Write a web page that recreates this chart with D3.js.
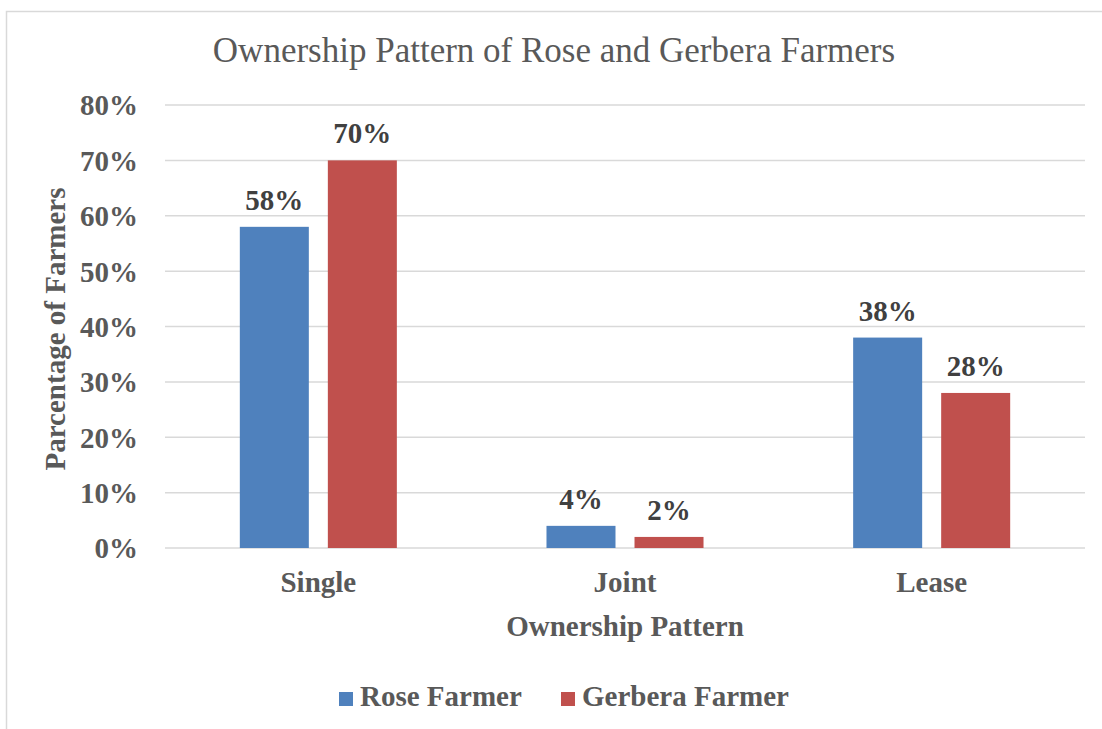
<!DOCTYPE html>
<html>
<head>
<meta charset="utf-8">
<script src="https://cdn.jsdelivr.net/npm/d3@7"></script>
<style>
  body { margin: 0; background: #fff; }
  text { font-family: "Liberation Serif", "Times New Roman", serif; }
</style>
</head>
<body>
<div class="container"></div>
<script>
const categories = ['Single', 'Joint', 'Lease'];
const series = ['Rose Farmer', 'Gerbera Farmer'];
const roseValues = [58, 4, 38];
const gerberaValues = [70, 2, 28];
const yTicks = [0, 10, 20, 30, 40, 50, 60, 70, 80];

const colors = ['#4f81bd', '#c0504d'];
const values = [roseValues, gerberaValues];

const w = 1102,
    h = 729;
const pLeft = 165, pRight = 1085, pTop = 105, pBottom = 548;
const fs = 29;

const svg = d3.select('.container')
  .append('svg')
  .attr('width', w)
  .attr('height', h);

// chart border
svg.append('rect')
  .attr('x', 6.5)
  .attr('y', 11.5)
  .attr('width', 1120)
  .attr('height', 740)
  .attr('fill', 'none')
  .attr('stroke', '#d9d9d9')
  .attr('stroke-width', 1.5);

const x0 = d3.scaleBand()
  .domain(categories)
  .range([pLeft, pRight]);

const x1 = d3.scaleBand()
  .domain(series)
  .range([0, x0.bandwidth()])
  .paddingInner(0.216)
  .paddingOuter(0.85);

const yScale = d3.scaleLinear()
  .domain([0, 80])
  .range([pBottom, pTop]);

// gridlines
svg.append('g')
  .selectAll('line')
  .data(yTicks)
  .enter()
  .append('line')
  .attr('x1', pLeft)
  .attr('x2', pRight)
  .attr('y1', d => yScale(d))
  .attr('y2', d => yScale(d))
  .attr('stroke', '#d9d9d9')
  .attr('stroke-width', 1.5);

// y axis labels
const yAxis = d3.axisLeft(yScale)
  .tickValues(yTicks)
  .tickSize(0)
  .tickPadding(0)
  .tickFormat(d => d + '%');

const yg = svg.append('g')
  .attr('transform', 'translate(138,0)')
  .call(yAxis);
yg.select('.domain').remove();
yg.selectAll('text')
  .attr('font-family', '"Liberation Serif", "Times New Roman", serif')
  .attr('font-size', fs)
  .attr('font-weight', 'bold')
  .attr('fill', '#595959')
  .attr('dy', '0.34em');

// x axis labels
const xAxis = d3.axisBottom(x0).tickSize(0).tickPadding(0);
const xg = svg.append('g')
  .attr('transform', `translate(0,${pBottom})`)
  .call(xAxis);
xg.select('.domain').remove();
xg.selectAll('text')
  .attr('font-family', '"Liberation Serif", "Times New Roman", serif')
  .attr('font-size', fs)
  .attr('font-weight', 'bold')
  .attr('fill', '#595959')
  .attr('y', 44)
  .attr('dy', 0);

// bars
series.forEach((s, si) => {
  const g = svg.append('g');
  g.selectAll('rect')
    .data(values[si])
    .enter()
    .append('rect')
    .attr('x', (d, i) => x0(categories[i]) + x1(s))
    .attr('y', d => yScale(d))
    .attr('width', x1.bandwidth())
    .attr('height', d => pBottom - yScale(d))
    .attr('fill', colors[si]);

  g.selectAll('text')
    .data(values[si])
    .enter()
    .append('text')
    .attr('x', (d, i) => x0(categories[i]) + x1(s) + x1.bandwidth() / 2)
    .attr('y', d => yScale(d) - 17)
    .attr('text-anchor', 'middle')
    .attr('font-size', fs)
    .attr('font-weight', 'bold')
    .attr('fill', '#404040')
    .text(d => d + '%');
});

// title
svg.append('text')
  .attr('x', 554)
  .attr('y', 62)
  .attr('text-anchor', 'middle')
  .attr('font-size', 35)
  .attr('fill', '#595959')
  .text('Ownership Pattern of Rose and Gerbera Farmers');

// axis titles
svg.append('text')
  .attr('x', (pLeft + pRight) / 2)
  .attr('y', 636)
  .attr('text-anchor', 'middle')
  .attr('font-size', fs)
  .attr('font-weight', 'bold')
  .attr('fill', '#595959')
  .text('Ownership Pattern');

svg.append('text')
  .attr('transform', 'translate(65,329) rotate(-90)')
  .attr('text-anchor', 'middle')
  .attr('font-size', fs)
  .attr('font-weight', 'bold')
  .attr('fill', '#595959')
  .text('Parcentage of Farmers');

// legend
const legendX = [339, 561];
series.forEach((s, si) => {
  svg.append('rect')
    .attr('x', legendX[si])
    .attr('y', 692)
    .attr('width', 14)
    .attr('height', 14)
    .attr('fill', colors[si]);
  svg.append('text')
    .attr('x', legendX[si] + 21)
    .attr('y', 706)
    .attr('font-size', fs)
    .attr('font-weight', 'bold')
    .attr('fill', '#595959')
    .text(s);
});
</script>
</body>
</html>
